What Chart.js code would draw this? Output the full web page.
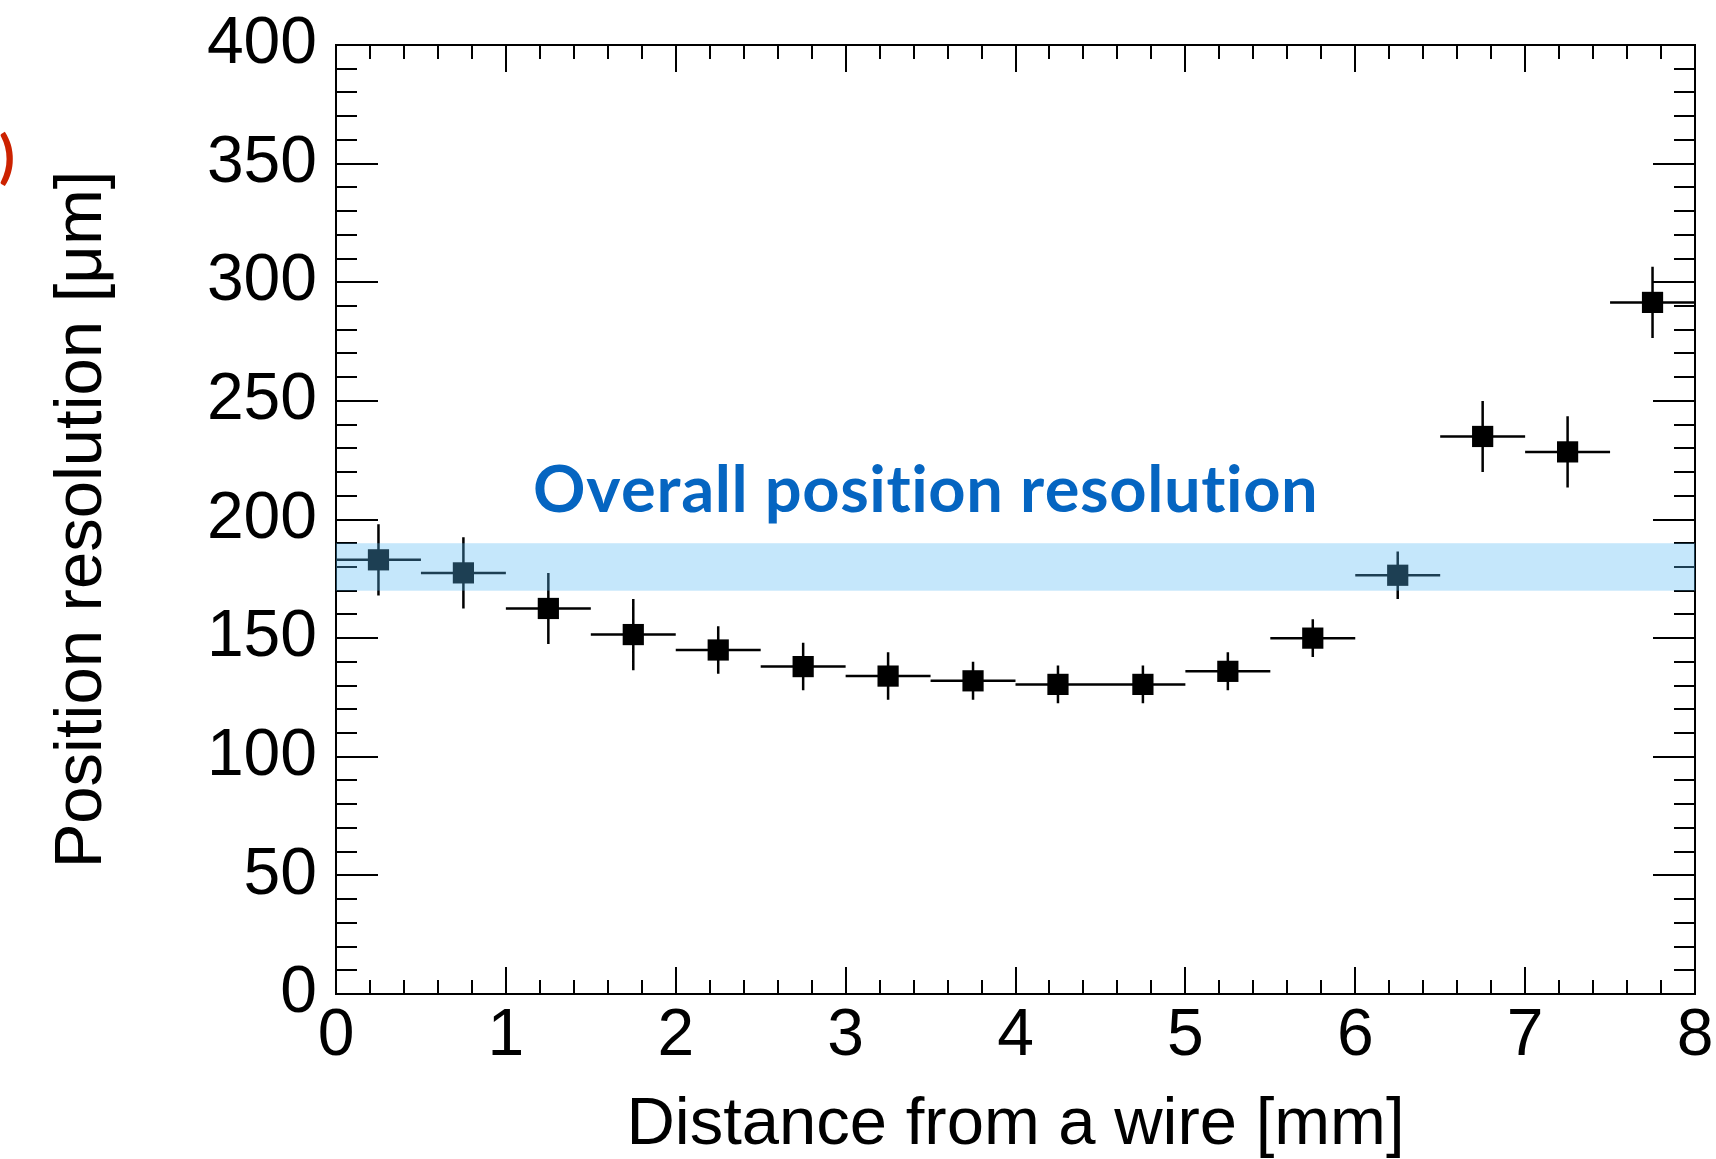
<!DOCTYPE html>
<html>
<head>
<meta charset="utf-8">
<title>Position resolution vs distance from wire</title>
<script src="https://cdn.jsdelivr.net/npm/chart.js@4.4.1/dist/chart.umd.min.js"></script>
<style>
  html, body { margin: 0; padding: 0; background: #fff; }
  #wrap { width: 1716px; height: 1159px; }
</style>
</head>
<body>
<div id="wrap"><canvas id="resChart" width="1716" height="1159"></canvas></div>
<script>
// bin centres [mm], measured resolution [um] and its uncertainty
const distance = [0.25, 0.75, 1.25, 1.75, 2.25, 2.75, 3.25, 3.75, 4.25, 4.75, 5.25, 5.75, 6.25, 6.75, 7.25, 7.75]
const resolution = [183, 177.5, 162.5, 151.5, 145, 138, 134, 132, 130.5, 130.5, 136, 150, 176.5, 235, 228.5, 291.5]
const resolutionErr = [15, 15, 15, 15, 10, 10, 10, 8, 8, 8, 8, 8, 10, 15, 15, 15]
const binHalfWidth = 0.25

// overall resolution band
const bandLow = 170
const bandHigh = 190
const bandLabel = 'Overall position resolution'

const xTicks = ['0', '1', '2', '3', '4', '5', '6', '7', '8']
const yTicks = ['0', '50', '100', '150', '200', '250', '300', '350', '400']

const axisFont = '"Liberation Sans", Arial, Helvetica, sans-serif'

const points = distance.map((d, i) => ({x: d, y: resolution[i]}))

// frame with inward ticks on all four sides (ROOT style)
const frameTicks = {
    id: 'frameTicks',
    beforeDatasetsDraw(chart) {
        const ctx = chart.ctx
        const xs = chart.scales.x
        const ys = chart.scales.y
        const {left, right, top, bottom} = chart.chartArea
        ctx.save()
        ctx.strokeStyle = '#000'
        ctx.lineWidth = 2
        ctx.beginPath()
        for (let v = 0; v <= 400; v += 10) {
            const p = Math.round(ys.getPixelForValue(v))
            const len = v % 50 === 0 ? 42 : 21
            ctx.moveTo(left, p); ctx.lineTo(left + len, p)
            ctx.moveTo(right, p); ctx.lineTo(right - len, p)
        }
        for (let k = 0; k <= 40; k++) {
            const p = Math.round(xs.getPixelForValue(k * 0.2))
            const len = k % 5 === 0 ? 27 : 14
            ctx.moveTo(p, bottom); ctx.lineTo(p, bottom - len)
            ctx.moveTo(p, top); ctx.lineTo(p, top + len)
        }
        ctx.stroke()
        ctx.strokeRect(left, top, right - left, bottom - top)
        ctx.restore()
    }
}

// error bars: bin width horizontally, uncertainty vertically
const errorBars = {
    id: 'errorBars',
    beforeDatasetsDraw(chart) {
        const ctx = chart.ctx
        const xs = chart.scales.x
        const ys = chart.scales.y
        ctx.save()
        ctx.strokeStyle = '#000'
        ctx.lineWidth = 2.5
        ctx.beginPath()
        distance.forEach((d, i) => {
            const px = xs.getPixelForValue(d)
            const py = ys.getPixelForValue(resolution[i])
            ctx.moveTo(xs.getPixelForValue(d - binHalfWidth), py)
            ctx.lineTo(xs.getPixelForValue(d + binHalfWidth), py)
            ctx.moveTo(px, ys.getPixelForValue(resolution[i] + resolutionErr[i]))
            ctx.lineTo(px, ys.getPixelForValue(resolution[i] - resolutionErr[i]))
        })
        ctx.stroke()
        ctx.restore()
    }
}

// letters one by one so the font does not merge "ti" into a ligature
function drawSpaced(ctx, text, x, y, spacing) {
    for (const ch of text) {
        ctx.fillText(ch, x, y)
        x += ctx.measureText(ch).width + spacing
    }
}

// translucent band laid over the points, plus the annotations
const overlay = {
    id: 'overlay',
    afterDatasetsDraw(chart) {
        const ctx = chart.ctx
        const xs = chart.scales.x
        const ys = chart.scales.y
        const yTop = ys.getPixelForValue(bandHigh)
        const yBot = ys.getPixelForValue(bandLow)
        ctx.save()
        ctx.fillStyle = 'rgba(85, 185, 243, 0.34)'
        ctx.fillRect(xs.left, yTop, xs.right - xs.left, yBot - yTop)

        ctx.fillStyle = '#0565c1'
        ctx.font = 'bold 65px Lato, "Open Sans", sans-serif'
        ctx.textAlign = 'left'
        ctx.textBaseline = 'alphabetic'
        drawSpaced(ctx, bandLabel, xs.getPixelForValue(1.16), ys.getPixelForValue(203.2), 0.6)

        ctx.fillStyle = '#cc2200'
        ctx.font = 'bold 58px Lato, sans-serif'
        ctx.textAlign = 'right'
        ctx.textBaseline = 'middle'
        ctx.fillText(')', 15, 158)
        ctx.restore()
    }
}

new Chart(document.getElementById('resChart'), {
    type: 'scatter',
    data: {
        datasets: [{
            data: points,
            pointStyle: 'rect',
            pointRadius: 15,
            pointHoverRadius: 15,
            backgroundColor: '#000',
            borderWidth: 0,
            showLine: false
        }]
    },
    options: {
        responsive: false,
        animation: false,
        events: [],
        layout: {padding: {top: 45, right: 21, bottom: 0, left: 0}},
        plugins: {legend: {display: false}, tooltip: {enabled: false}},
        scales: {
            x: {
                type: 'linear',
                min: 0,
                max: 8,
                grid: {display: false, drawTicks: false},
                border: {display: false},
                ticks: {
                    stepSize: 1,
                    padding: 10,
                    color: '#000',
                    maxRotation: 0,
                    font: {family: axisFont, size: 66, lineHeight: 1},
                    callback: (v) => xTicks[v]
                },
                title: {
                    display: true,
                    text: 'Distance from a wire [mm]',
                    color: '#000',
                    font: {family: axisFont, size: 67, lineHeight: 1},
                    padding: {top: 0, bottom: 0}
                },
                afterFit: (scale) => {
                    scale.height = 165
                    scale.paddingLeft = 0
                    scale.paddingRight = 0
                }
            },
            y: {
                min: 0,
                max: 400,
                grid: {display: false, drawTicks: false},
                border: {display: false},
                ticks: {
                    stepSize: 50,
                    padding: 19,
                    color: '#000',
                    font: {family: axisFont, size: 66, lineHeight: 1},
                    callback: (v) => yTicks[v / 50]
                },
                title: {
                    display: true,
                    text: 'Position resolution [μm]',
                    color: '#000',
                    font: {family: axisFont, size: 67, lineHeight: 1},
                    padding: {top: 49, bottom: 0}
                },
                afterFit: (scale) => {
                    scale.width = 336
                    scale.paddingTop = 0
                    scale.paddingBottom = 0
                }
            }
        }
    },
    plugins: [frameTicks, errorBars, overlay]
})
</script>
</body>
</html>
